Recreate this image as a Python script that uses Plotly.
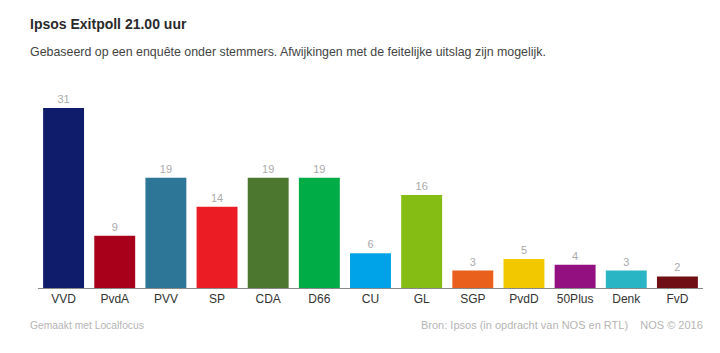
import plotly.graph_objects as go

parties = ["VVD", "PvdA", "PVV", "SP", "CDA", "D66", "CU", "GL", "SGP", "PvdD", "50Plus", "Denk", "FvD"]
seats = [31, 9, 19, 14, 19, 19, 6, 16, 3, 5, 4, 3, 2]
colors = ["#0f1c6b", "#a8001a", "#2e7698", "#ec1c24", "#4c772f", "#00ac45", "#00a3e8",
          "#86bd14", "#e8601b", "#f2c800", "#92107f", "#29b5c3", "#6f0e15"]

W, H = 720, 353
L, R, T, B = 38, 17, 90, 65
FONT = "Liberation Sans, Arial, sans-serif"

fig = go.Figure(go.Bar(
    x=parties, y=seats, marker=dict(color=colors, line=dict(width=0)),
    text=[str(s) for s in seats], textposition="outside",
    textfont=dict(color="#aaaaaa", size=11, family=FONT),
    cliponaxis=False, hoverinfo="skip",
))

def px(x):
    return (x - L) / (W - L - R)

def py(y):
    return (H - B - y) / (H - T - B)

fig.update_layout(
    width=W, height=H, margin=dict(l=L, r=R, t=T, b=B),
    paper_bgcolor="white", plot_bgcolor="white",
    bargap=0.2, showlegend=False,
    font=dict(family=FONT),
    title=dict(text="<b>Ipsos Exitpoll 21.00 uur</b>", x=30 / W, xref="container",
               y=1 - 24 / H, yref="container", xanchor="left", yanchor="middle",
               font=dict(size=14, color="#2a2a2a", family=FONT)),
    xaxis=dict(showline=True, linecolor="#888888", linewidth=1, ticks="",
               tickfont=dict(size=12, color="#333333", family=FONT), showgrid=False,
               fixedrange=True),
    yaxis=dict(range=[0, 34.1], visible=False, showgrid=False, fixedrange=True),
    annotations=[
        dict(text="Gebaseerd op een enquête onder stemmers. Afwijkingen met de feitelijke uitslag zijn mogelijk.",
             xref="paper", yref="paper", x=px(28), y=py(52), xanchor="left", yanchor="middle",
             showarrow=False, font=dict(size=12.4, color="#444444", family=FONT)),
        dict(text="Gemaakt met Localfocus", xref="paper", yref="paper", x=px(28), y=py(325),
             xanchor="left", yanchor="middle", showarrow=False,
             font=dict(size=10.3, color="#b5b5b5", family=FONT)),
        dict(text="Bron: Ipsos (in opdracht van NOS en RTL)&nbsp;&nbsp;&nbsp;&nbsp;NOS © 2016", xref="paper", yref="paper",
             x=px(705), y=py(325), xanchor="right", yanchor="middle", showarrow=False,
             font=dict(size=11, color="#b5b5b5", family=FONT)),
    ],
)

fig.write_html("out.html")
